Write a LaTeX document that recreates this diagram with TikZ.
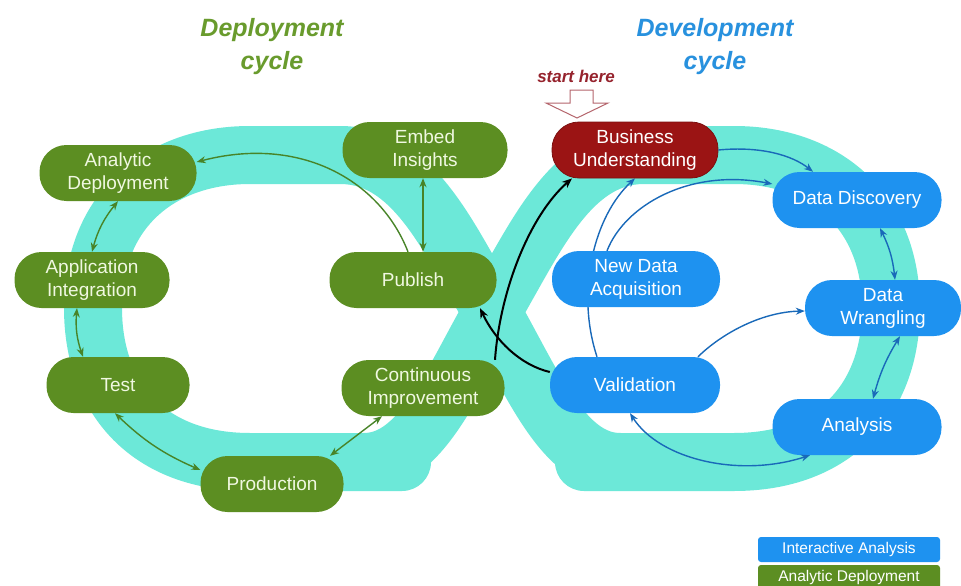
\documentclass[tikz,border=0pt]{standalone}
\usepackage{fontspec}
\setmainfont{Liberation Sans}
\usetikzlibrary{arrows.meta}
\pgfdeclarelayer{bg}
\pgfdeclarelayer{mid}
\pgfsetlayers{bg,mid,main}
\definecolor{band}{RGB}{108,232,216}
\definecolor{gnode}{RGB}{92,142,34}
\definecolor{bnode}{RGB}{30,146,240}
\definecolor{rnode}{RGB}{155,20,20}
\definecolor{gline}{RGB}{72,132,40}
\definecolor{bline}{RGB}{25,105,185}
\definecolor{gtitle}{RGB}{105,155,45}
\definecolor{btitle}{RGB}{40,145,222}
\definecolor{startred}{RGB}{150,35,45}
\definecolor{gtext}{RGB}{240,248,225}
\begin{document}
\begin{tikzpicture}[x=1pt,y=-1pt,
  pill/.style={rounded corners=27pt, inner sep=0pt, align=center,
    font=\fontsize{19}{23}\selectfont, minimum height=56pt},
  gpill/.style={pill, fill=gnode, text=gtext},
  bpill/.style={pill, fill=bnode, text=white},
  rpill/.style={pill, fill=rnode, text=white, draw=rnode!80!black, line width=0.8pt},
  bandline/.style={draw=band, line width=58pt},
  gdbl/.style={draw=gline, line width=1.4pt, {Stealth[length=9pt,width=7pt]}-{Stealth[length=9pt,width=7pt]}},
  garr/.style={draw=gline, line width=1.4pt, -{Stealth[length=9pt,width=7pt]}},
  bdbl/.style={draw=bline, line width=1.4pt, {Stealth[length=9pt,width=7pt]}-{Stealth[length=9pt,width=7pt]}},
  barr/.style={draw=bline, line width=1.4pt, -{Stealth[length=9pt,width=7pt]}},
  karr/.style={draw=black, line width=2pt, -{Stealth[length=10pt,width=8pt]}},
  legend/.style={rounded corners=3pt, inner sep=0pt, minimum width=182pt, minimum height=25pt, text=white, font=\fontsize{15.5}{17}\selectfont},
  title/.style={align=center, font=\fontsize{25}{33}\selectfont\bfseries\itshape}
]
\useasboundingbox (0,0) rectangle (961,586);

% background band
\begin{pgfonlayer}{bg}
\fill[white] (0,0) rectangle (961,586);
\draw[bandline, line cap=round] (402,462) -- (250,462) .. controls (150,462) and (93,400) .. (93,308) .. controls (93,210) and (160,155) .. (250,155) -- (340,155) .. controls (410,155) and (445,230) .. (485,300) .. controls (530,375) and (560,462) .. (620,462);
\draw[bandline, line cap=round] (584,462) -- (734,462) .. controls (834,462) and (891,400) .. (891,308) .. controls (891,210) and (824,155) .. (734,155) -- (644,155) .. controls (574,155) and (539,230) .. (499,300) .. controls (454,375) and (424,462) .. (364,462);
\end{pgfonlayer}

% titles
\node[title, text=gtitle] (t1) at (272,47) {Deployment\\cycle};
\node[title, text=btitle] (t2) at (715,47) {Development\\cycle};
\node[font=\fontsize{17}{20}\selectfont\bfseries\itshape, text=startred] (sh) at (576,76) {start here};
\draw[draw=startred!70, fill=white, line width=1pt] (570,90) -- (593,90) -- (593,103) -- (608,103) -- (577,118) -- (546,103) -- (570,103) -- cycle;

% green nodes
\node[gpill, minimum width=157pt] (ad) at (118,173) {Analytic\\Deployment};
\node[gpill, minimum width=155pt] (ai) at (92,280) {Application\\Integration};
\node[gpill, minimum width=143pt] (test) at (118,385) {Test};
\node[gpill, minimum width=143pt] (prod) at (272,484) {Production};
\node[gpill, minimum width=163pt] (ci) at (423,388) {Continuous\\Improvement};
\node[gpill, minimum width=167pt] (pub) at (413,280) {Publish};
\node[gpill, minimum width=165pt] (ei) at (425,150) {Embed\\Insights};

% blue / red nodes
\node[rpill, minimum width=166pt] (bu) at (635,150) {Business\\Understanding};
\node[bpill, minimum width=169pt] (dd) at (857,200) {Data Discovery};
\node[bpill, minimum width=168pt] (nda) at (636,279) {New Data\\Acquisition};
\node[bpill, minimum width=156pt] (dw) at (883,308) {Data\\Wrangling};
\node[bpill, minimum width=170pt] (val) at (635,385) {Validation};
\node[bpill, minimum width=169pt] (an) at (857,427) {Analysis};

% legend
\node[legend, fill=bnode] (l1) at (849,549.5) {Interactive Analysis};
\node[legend, fill=gnode] (l2) at (849,577.5) {Analytic Deployment};

% green connectors
\draw[garr] ([xshift=-5pt]pub.north) .. controls (380,180) and (300,135) .. ([yshift=11pt]ad.east);
\draw[gdbl] ([xshift=-2pt]ei.south) -- ([xshift=10pt]pub.north);
\draw[gdbl] (ad.south) to[bend right=12] (ai.north);
\draw[gdbl] ([xshift=-15pt]ai.south) to[bend right=12] ([xshift=-35pt]test.north);
\draw[gdbl] ([xshift=-3pt]test.south) to[bend right=10] ([yshift=14pt]prod.west);
\draw[gdbl] ([xshift=58pt]prod.north) -- ([xshift=-41pt]ci.south);

% blue connectors
\begin{pgfonlayer}{mid}
\draw[barr] ([xshift=-38pt]val.north) .. controls (575,290) and (595,215) .. (bu.south);
\end{pgfonlayer}
\draw[barr] (bu.east) .. controls (760,146) and (792,155) .. ([xshift=-44pt]dd.north);
\draw[barr] ([xshift=-29pt]nda.north) .. controls (625,205) and (690,168) .. ([yshift=16pt]dd.west);
\draw[bdbl] ([xshift=23pt]dd.south) to[bend left=10] ([xshift=12pt]dw.north);
\draw[barr] ([xshift=63pt]val.north) .. controls (720,335) and (760,312) .. ([yshift=-3pt]dw.west);
\draw[bdbl] ([xshift=17pt]dw.south) to[bend right=8] ([xshift=16pt]an.north);
\draw[bdbl] ([xshift=-5pt]val.south) .. controls (660,460) and (740,478) .. ([xshift=-47pt]an.south);

% black connectors
\draw[karr] ([yshift=13pt]val.west) .. controls (520,365) and (495,340) .. ([xshift=67pt]pub.south);
\draw[karr] ([xshift=72pt]ci.north) .. controls (500,290) and (530,215) .. ([xshift=-63pt]bu.south);
\end{tikzpicture}
\end{document}
